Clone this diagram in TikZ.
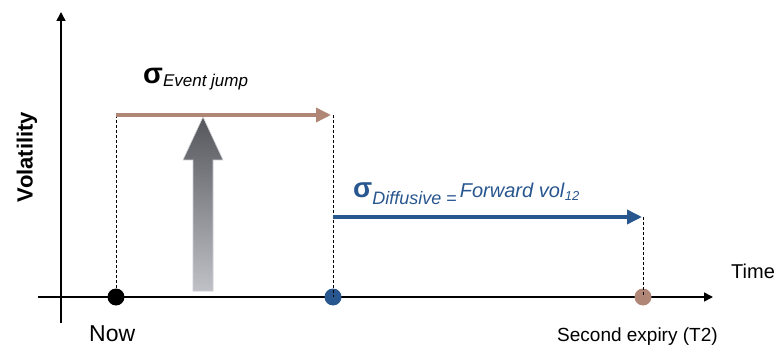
\documentclass[tikz,border=0pt]{standalone}
\usepackage{fontspec}
\setmainfont{Liberation Sans}
\usetikzlibrary{arrows.meta}
\definecolor{rosy}{RGB}{176,134,118}
\definecolor{navy}{RGB}{40,86,142}
\definecolor{darkg}{RGB}{85,86,92}
\definecolor{lightg}{RGB}{192,193,199}
\tikzset{
  axis/.style={line width=1.6pt,-{Triangle[length=9pt,width=9pt]}},
  guide/.style={dashed,line width=0.7pt,dash pattern=on 3pt off 2pt},
  dot/.style={circle,inner sep=0pt,minimum size=17pt},
  lbl/.style={inner sep=0pt,font=\fontsize{19}{22}\selectfont},
  flow/.style={line width=3.5pt,-{Triangle[length=15pt,width=14pt]}}
}
\begin{document}
\begin{tikzpicture}[x=1pt,y=-1pt]
\useasboundingbox (0,0) rectangle (781,347);
% axes
\coordinate (yb) at (61,323);
\coordinate (yt) at (61,12);
\coordinate (xl) at (38,297);
\coordinate (xr) at (713,297);
\draw[axis] (yb) -- (yt);
\draw[axis] (xl) -- (xr);
% dots
\node[dot,fill=black] (now) at (116,297) {};
\node[dot,fill=navy] (t1) at (333,297) {};
\node[dot,fill=rosy] (t2) at (643,297) {};
% guides
\coordinate (g1) at (116,115);
\coordinate (g2) at (333,115);
\coordinate (g3) at (643,217);
\draw[guide] (g1) -- (now.center);
\draw[guide] (g2) -- (t1.center);
\draw[guide] (g3) -- (t2.center);
% gray block arrow
\shade[top color=darkg,bottom color=lightg,draw=lightg!80!white,line width=0.6pt]
  (193,291) -- (193,160) -- (183,160) -- (203,117) -- (223,160) -- (213,160) -- (213,291) -- cycle;
% flows
\coordinate (b1) at (331,115);
\coordinate (c1) at (642,217);
\draw[flow,rosy] (g1) -- (b1);
\draw[flow,navy] (g2 |- c1) -- (c1);
% labels
\node[lbl,anchor=base west] (sej) at (143,84) {\fontsize{29}{30}\selectfont\textbf{σ}\raisebox{-3pt}{\fontsize{17}{19}\selectfont\textit{Event jump}}};
\node[lbl,anchor=base west,text=navy] (sdf) at (353,198) {\fontsize{28}{30}\selectfont\textbf{σ}\raisebox{-7pt}{\fontsize{18}{19}\selectfont\textit{Diffusive} =}\hspace{3pt}\fontsize{20}{21}\selectfont\textit{Forward vol}\raisebox{-3pt}{\fontsize{13}{15}\selectfont\textit{12}}};
\node[lbl,rotate=90,font=\fontsize{22}{24}\selectfont\bfseries] (vol) at (27,157) {Volatility};
\node[lbl,anchor=base west,font=\fontsize{20}{22}\selectfont] (time) at (731,278) {Time};
\node[lbl,anchor=base west,font=\fontsize{23}{25}\selectfont] (nowl) at (89,341) {Now};
\node[lbl,anchor=base west] (sec) at (557,341) {Second expiry (T2)};
\end{tikzpicture}
\end{document}
